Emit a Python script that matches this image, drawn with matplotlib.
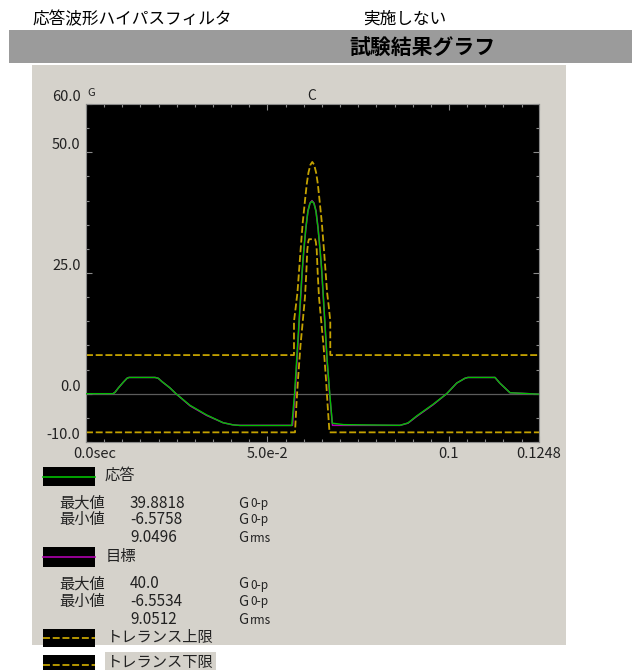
import matplotlib
matplotlib.use("Agg")
import matplotlib.pyplot as plt
from matplotlib.patches import Rectangle
from matplotlib.lines import Line2D
from matplotlib.ticker import MultipleLocator

plt.rcParams['font.family'] = ['Noto Sans CJK JP', 'DejaVu Sans']
plt.rcParams['lines.scale_dashes'] = False

W, H = 632, 670

# 目標波形 (時間 s, 加速度 G)
target_t = [0.0, 0.00744, 0.00800, 0.00892, 0.01030, 0.01130, 0.01185, 0.01901, 0.01990,
            0.02094, 0.02314, 0.02479, 0.02865, 0.03325, 0.03774, 0.04050, 0.04243,
            0.05689, 0.05758, 0.05813, 0.05868, 0.05915, 0.05964, 0.06006, 0.06061,
            0.06116, 0.06171, 0.06226, 0.06281, 0.06336, 0.06391, 0.06446, 0.06488,
            0.06537, 0.06584, 0.06639, 0.06710, 0.06791, 0.08651, 0.08871, 0.09111,
            0.09560, 0.09937, 0.10213, 0.10441, 0.10524, 0.11268, 0.11400, 0.11681,
            0.1248]
target_v = [0.0, 0.0, 0.3, 1.2, 2.4, 3.2, 3.37, 3.37, 3.2,
            2.5, 1.2, 0.0, -2.5, -4.5, -6.0, -6.45, -6.55,
            -6.55, 0.0, 7.0, 14.0, 20.0, 26.0, 30.0, 34.5,
            37.9, 39.5, 40.0, 39.5, 37.9, 34.5, 30.0, 26.0,
            20.0, 14.0, 7.0, 0.0, -6.55, -6.55, -6.1, -4.7,
            -2.3, 0.0, 2.2, 3.2, 3.37, 3.37, 2.2, 0.2,
            -0.1]

# 応答波形
resp_t = [0.0, 0.00744, 0.00800, 0.00892, 0.01030, 0.01130, 0.01185, 0.01901, 0.01990,
          0.02094, 0.02314, 0.02479, 0.02865, 0.03325, 0.03774, 0.04050, 0.04243,
          0.05670, 0.05745, 0.05805, 0.05862, 0.05910, 0.05960, 0.06002, 0.06058,
          0.06114, 0.06170, 0.06224, 0.06279, 0.06334, 0.06390, 0.06446, 0.06490,
          0.06540, 0.06588, 0.06644, 0.06716, 0.06785, 0.07100, 0.08651, 0.08871,
          0.09111, 0.09560, 0.09937, 0.10213, 0.10441, 0.10524, 0.11268, 0.11400,
          0.11681, 0.1248]
resp_v = [0.0, 0.0, 0.3, 1.2, 2.4, 3.2, 3.37, 3.37, 3.2,
          2.5, 1.2, 0.0, -2.4, -4.4, -6.0, -6.45, -6.58,
          -6.58, 0.0, 7.2, 14.1, 20.0, 26.0, 30.0, 34.4,
          37.8, 39.4, 39.88, 39.4, 37.8, 34.4, 30.0, 26.0,
          20.0, 14.0, 7.0, 0.0, -6.1, -6.4, -6.55, -6.05,
          -4.6, -2.2, 0.0, 2.2, 3.2, 3.37, 3.37, 2.2,
          0.2, -0.1]

# トレランス上限・下限
upper_t = [0.0, 0.05730, 0.05730, 0.05779, 0.05826, 0.05870, 0.05914, 0.05972,
           0.06033, 0.06083, 0.06129, 0.06182, 0.06234, 0.06286, 0.06339, 0.06386,
           0.06435, 0.06496, 0.06554, 0.06598, 0.06642, 0.06689, 0.06730, 0.06730,
           0.1248]
upper_v = [8.0, 8.0, 15.0, 18.0, 21.0, 25.5, 30.0, 35.5,
           40.0, 43.5, 45.8, 47.4, 48.0, 47.4, 45.8, 43.5,
           40.0, 35.5, 30.0, 25.5, 21.0, 18.0, 15.0, 8.0,
           8.0]
lower_t = [0.0, 0.05758, 0.05799, 0.05841, 0.05909, 0.05978, 0.06033, 0.06069,
           0.06097, 0.06124, 0.06144, 0.06309, 0.06331, 0.06356, 0.06383, 0.06419,
           0.06474, 0.06543, 0.06612, 0.06653, 0.06708, 0.1248]
lower_v = [-8.0, -8.0, -2.0, 3.0, 10.0, 15.5, 20.0, 25.0,
           29.8, 31.5, 32.0, 32.0, 31.5, 29.8, 25.0, 20.0,
           15.5, 10.0, 3.0, -2.0, -8.0, -8.0]

xtick_vals = [0.0, 0.05, 0.1, 0.1248]
xtick_text = ["0.0sec", "5.0e-2", "0.1", "0.1248"]
ytick_vals = [-10.0, 0.0, 25.0, 50.0, 60.0]
ytick_text = ["-10.0", "0.0", "25.0", "50.0", "60.0"]
peak_t = 0.06226

resp_stats = ["39.8818", "-6.5758", "9.0496"]
target_stats = ["40.0", "-6.5534", "9.0512"]
stat_names = ["最大値", "最小値", ""]
stat_units = ["0-p", "0-p", "rms"]

PANEL = '#d5d2cb'
GREEN = '#00c000'
MAGENTA = '#b000b0'
YELLOW = '#c4a200'
INK = '#222222'


def fx(x):
    return x / W


def fy(y):
    return 1 - y / H


fig = plt.figure(figsize=(W / 100, H / 100), dpi=100)
fig.patch.set_facecolor('white')


def frect(x0, y0, x1, y1, color, z=-1):
    fig.patches.append(Rectangle((fx(x0), fy(y1)), fx(x1) - fx(x0), fy(y0) - fy(y1),
                                 transform=fig.transFigure, facecolor=color,
                                 edgecolor='none', zorder=z))


# 見出し
fig.text(fx(32), fy(24), "応答波形ハイパスフィルタ", fontsize=12, va='baseline')
fig.text(fx(363), fy(24), "実施しない", fontsize=12, va='baseline')
frect(8.5, 30, W, 63, '#9b9b9b')
fig.text(fx(349), fy(55), "試験結果グラフ", fontsize=15, fontweight='bold', va='baseline')

# グラフ枠
frect(31.5, 65, 566, 645, PANEL, z=-2)

ax = fig.add_axes([fx(86), fy(442), fx(539) - fx(86), fy(104) - fy(442)])
ax.set_zorder(5)
ax.set_facecolor('black')
ax.set_xlim(0, 0.1248)
ax.set_ylim(-10, 60)
ax.axhline(0, color='#5c5c5c', lw=0.9, zorder=1)

ax.plot(upper_t, upper_v, color=YELLOW, lw=1.3, dashes=(5, 2), zorder=2)
ax.plot(lower_t, lower_v, color=YELLOW, lw=1.3, dashes=(5, 2), zorder=2)
ax.plot(target_t, target_v, color=MAGENTA, lw=1.1, zorder=3)
ax.plot(resp_t, resp_v, color=GREEN, lw=1.0, zorder=4)

ax.set_xticks(xtick_vals)
ax.set_yticks(ytick_vals)
ax.xaxis.set_minor_locator(MultipleLocator(0.005))
ax.yaxis.set_minor_locator(MultipleLocator(5))
ax.tick_params(which='both', direction='in', colors='#8a8a8a', top=True, right=True,
               labelbottom=False, labelleft=False, width=0.8)
ax.tick_params(which='major', length=4)
ax.tick_params(which='minor', length=2.5)
for sp in ax.spines.values():
    sp.set_color('#8a8a8a')
    sp.set_linewidth(0.8)

for v, s in zip(ytick_vals, ytick_text):
    ax.annotate(s, xy=(0, v), xycoords=('axes fraction', 'data'), xytext=(-4, 2.2),
                textcoords='offset points', ha='right', va='baseline', fontsize=10.5,
                color=INK, annotation_clip=False)
for v, s in zip(xtick_vals, xtick_text):
    if s.endswith("sec"):
        ax.annotate(s, xy=(v, 0), xycoords=('data', 'axes fraction'), xytext=(-9.3, -11.5),
                    textcoords='offset points', ha='left', va='baseline', fontsize=10.5,
                    color=INK, annotation_clip=False)
    else:
        ax.annotate(s, xy=(v, 0), xycoords=('data', 'axes fraction'), xytext=(0, -11.5),
                    textcoords='offset points', ha='center', va='baseline', fontsize=10.5,
                    color=INK, annotation_clip=False)

ax.annotate("G", xy=(0, 1), xycoords='axes fraction', xytext=(1, 6),
            textcoords='offset points', ha='left', va='baseline', fontsize=8, color=INK,
            annotation_clip=False)
ax.annotate("C", xy=(peak_t, 1), xycoords=('data', 'axes fraction'), xytext=(0, 3),
            textcoords='offset points', ha='center', va='baseline', fontsize=10, color=INK,
            annotation_clip=False)


# 凡例
def swatch(y0, y1, color, dashed=False):
    frect(43, y0, 95, y1, 'black', z=1)
    ym = fy((y0 + y1) / 2)
    ln = Line2D([fx(43), fx(95)], [ym, ym], transform=fig.transFigure, color=color,
                lw=1.2 if not dashed else 1.3, zorder=2)
    if dashed:
        ln.set_dashes((5, 2))
    fig.lines.append(ln)


def stat_rows(ys, values):
    for y, name, val, unit in zip(ys, stat_names, values, stat_units):
        b = fy(y + 5.5)
        if name:
            fig.text(fx(59), b, name, fontsize=11, va='baseline', color=INK)
        fig.text(fx(130), b, val, fontsize=11, va='baseline', color=INK)
        fig.text(fx(238), b, "G", fontsize=10.5, va='baseline', color=INK)
        fig.text(fx(250), b, unit, fontsize=8.5, va='baseline', color=INK)


swatch(467, 486, GREEN)
fig.text(fx(105), fy(479.5), "応答", fontsize=11, va='baseline', color=INK)
stat_rows([502, 518, 537], resp_stats)

swatch(547, 567, MAGENTA)
fig.text(fx(106), fy(561.5), "目標", fontsize=11, va='baseline', color=INK)
stat_rows([583, 600, 618], target_stats)

swatch(629, 647, YELLOW, dashed=True)
fig.text(fx(107), fy(642), "トレランス上限", fontsize=11, va='baseline', color=INK)

swatch(655, 675, YELLOW, dashed=True)
fig.text(fx(107), fy(667), "トレランス下限", fontsize=11, va='baseline', color=INK,
         bbox=dict(facecolor=PANEL, edgecolor='none', pad=1.5))

fig.savefig("out.png", dpi=100, facecolor='white')
